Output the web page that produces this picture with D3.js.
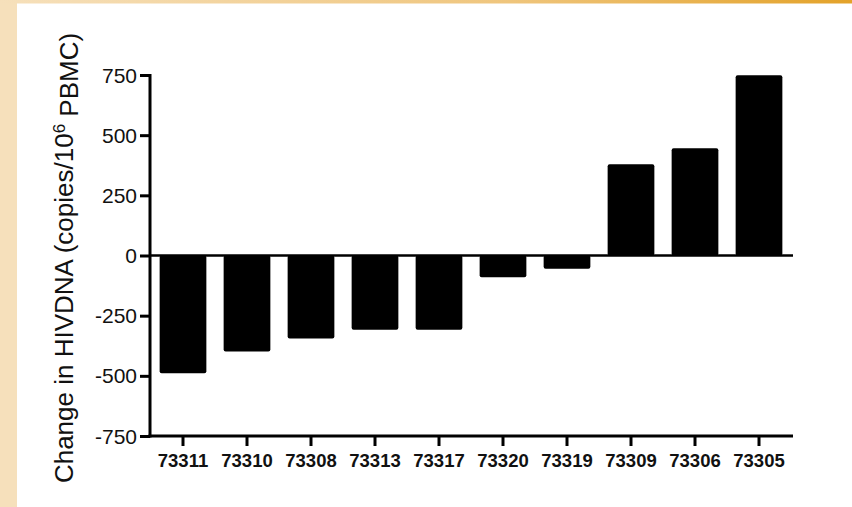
<!DOCTYPE html>
<html>
<head>
<meta charset="utf-8">
<script src="https://cdn.jsdelivr.net/npm/d3@7"></script>
<style>
    body { margin: 0; background: #fff; }
    svg { display: block; }
</style>
</head>
<body>
<script>
// Patient ids along the x axis and their change in HIV DNA
var patients = ["73311", "73310", "73308", "73313", "73317",
                "73320", "73319", "73309", "73306", "73305"];
var changes = [-489, -399, -345, -309, -309, -90, -55, 379, 446, 749];
var yTicks = [-750, -500, -250, 0, 250, 500, 750];

var W = 852, H = 507;
var plot = {left: 151, right: 791, top: 75, bottom: 436};

var svg = d3.select("body").append("svg")
    .attr("width", W)
    .attr("height", H);

// Frame: beige strip on the left, gradient strip along the top
var grad = svg.append("defs").append("linearGradient")
    .attr("id", "topband");
grad.append("stop").attr("offset", "0%").attr("stop-color", "#f6e0bb");
grad.append("stop").attr("offset", "60%").attr("stop-color", "#efc57c");
grad.append("stop").attr("offset", "100%").attr("stop-color", "#e3a229");

svg.append("rect")
    .attr("x", 0).attr("y", 0)
    .attr("width", 17).attr("height", H)
    .attr("fill", "#f6e0bb");
svg.append("rect")
    .attr("x", 0).attr("y", 0)
    .attr("width", W).attr("height", 3.5)
    .attr("fill", "url(#topband)");

// Scales
var xScale = d3.scaleBand()
    .domain(patients)
    .range([plot.left, plot.right])
    .paddingInner(0.27)
    .paddingOuter(0.135);
var yScale = d3.scaleLinear()
    .domain([-750, 750])
    .range([plot.bottom, plot.top]);

var data = patients.map(function(p, i) {
    return {key: p, value: changes[i]};
});

// Bars hang from the zero line
svg.selectAll("rect.bar")
    .data(data)
    .enter()
    .append("rect")
    .attr("class", "bar")
    .attr("x", function(d) { return xScale(d.key); })
    .attr("y", function(d) { return yScale(Math.max(0, d.value)); })
    .attr("width", xScale.bandwidth())
    .attr("height", function(d) {
        return Math.abs(yScale(d.value) - yScale(0));
    })
    .attr("rx", 2)
    .attr("fill", "#000");

// Zero line across the plot
svg.append("line")
    .attr("x1", plot.left - 1).attr("x2", plot.right + 2)
    .attr("y1", yScale(0)).attr("y2", yScale(0))
    .attr("stroke", "#000")
    .attr("stroke-width", 2.5);

// Y axis (plain hyphen for negatives, like the original)
var yAxis = d3.axisLeft(yScale)
    .tickValues(yTicks)
    .tickFormat(function(d) { return String(d); })
    .tickSize(10)
    .tickPadding(3)
    .tickSizeOuter(0);
var gy = svg.append("g")
    .attr("transform", "translate(" + (plot.left - 1) + ",0)")
    .call(yAxis);
gy.select(".domain")
    .attr("stroke-width", 3)
    .attr("d", "M0," + (plot.top - 1) + "V" + (plot.bottom + 1.5));
gy.selectAll(".tick line").attr("stroke-width", 3);
gy.selectAll(".tick text")
    .attr("font-family", "Liberation Sans, Arial, sans-serif")
    .attr("font-size", "21px")
    .attr("fill", "#111")
    .attr("dy", "0.34em");

// X axis sits at the bottom of the plot
var xAxis = d3.axisBottom(xScale)
    .tickSize(10)
    .tickPadding(8)
    .tickSizeOuter(0);
var gx = svg.append("g")
    .attr("transform", "translate(0," + plot.bottom + ")")
    .call(xAxis);
gx.select(".domain")
    .attr("stroke-width", 3)
    .attr("d", "M" + (plot.left - 2.5) + ",0H" + (plot.right + 2));
gx.selectAll(".tick line").attr("stroke-width", 3);
gx.selectAll(".tick text")
    .attr("font-family", "Liberation Sans, Arial, sans-serif")
    .attr("font-size", "18.5px")
    .attr("font-weight", "bold")
    .attr("fill", "#111");

// Y axis title
var title = svg.append("text")
    .attr("transform", "translate(73," + 258 + ") rotate(-90)")
    .attr("text-anchor", "middle")
    .attr("font-family", "Liberation Sans, Arial, sans-serif")
    .attr("font-size", "26px")
    .attr("fill", "#111");
title.append("tspan").text("Change in HIVDNA (copies/10");
title.append("tspan")
    .attr("dy", "-0.5em")
    .attr("font-size", "17px")
    .text("6");
title.append("tspan")
    .attr("dy", "0.5em")
    .text(" PBMC)");
</script>
</body>
</html>
